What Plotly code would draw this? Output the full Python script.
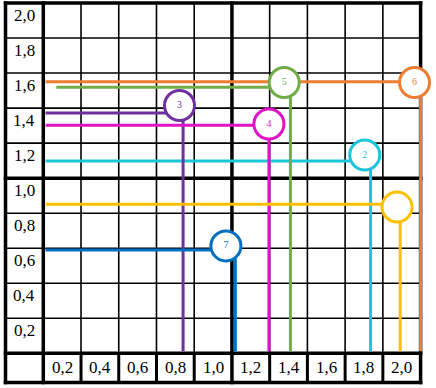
import plotly.graph_objects as go

# ---- data ----
x_tick_labels = ["0,2", "0,4", "0,6", "0,8", "1,0", "1,2", "1,4", "1,6", "1,8", "2,0"]
y_tick_labels = ["0,2", "0,4", "0,6", "0,8", "1,0", "1,2", "1,4", "1,6", "1,8", "2,0"]
tick_values = [0.2, 0.4, 0.6, 0.8, 1.0, 1.2, 1.4, 1.6, 1.8, 2.0]

series_labels = ["2", "3", "4", "5", "6", "", "7"]
series_x = [1.735, 0.741, 1.196, 1.310, 2.000, 1.892, 1.018]
series_y = [1.098, 1.372, 1.302, 1.519, 1.551, 0.851, 0.590]
line_start_x = [0.0, 0.0, 0.0, 0.057, 0.0, 0.0, 0.0]
bubble_x = [1.704, 0.722, 1.196, 1.277, 1.968, 1.875, 0.968]
bubble_y = [1.132, 1.415, 1.309, 1.546, 1.546, 0.835, 0.613]

# ---- styles ----
colors = ["#1CC6DA", "#7030A0", "#E014C6", "#70AD47", "#ED7D31", "#FFC000", "#0070C0"]
FONT = "'Times New Roman', 'Liberation Serif', 'DejaVu Serif', serif"
X_LEFT = -0.2003      # outer border of label column
Y_BOTTOM = -0.1667    # outer border of label row
EX, EY = 0.0093, 0.010

fig = go.Figure()

shapes = []
def line(x0, y0, x1, y1, w):
    shapes.append(dict(type="line", x0=x0, y0=y0, x1=x1, y1=y1, layer="below",
                       line=dict(color="black", width=w)))

for v in tick_values[:-1]:
    if abs(v - 1.0) < 1e-9:
        continue
    line(X_LEFT, v, 2.0, v, 1.6)          # horizontal thin
    line(v, 0, v, 2.0, 1.6)               # vertical thin in grid
    line(v, Y_BOTTOM, v, 0, 3)            # separators in label row
for xv in [X_LEFT, 0.0, 1.0, 2.0]:
    line(xv, Y_BOTTOM - EY, xv, 2.0 + EY, 3.5)
for yv in [Y_BOTTOM, 0.0, 1.0, 2.0]:
    line(X_LEFT - EX, yv, 2.0 + EX, yv, 3.5)

# colored leader lines
for lab, xs, xv, yv, c in zip(series_labels, line_start_x, series_x, series_y, colors):
    fig.add_trace(go.Scatter(x=[xs + 0.012, xv, xv], y=[yv, yv, 0.012], mode="lines",
                             line=dict(color=c, width=3), hoverinfo="skip",
                             showlegend=False, cliponaxis=False))

# circles with numbers
for lab, bx, by, c in zip(series_labels, bubble_x, bubble_y, colors):
    fig.add_trace(go.Scatter(x=[bx], y=[by], mode="markers+text", text=[lab],
                             textposition="middle center",
                             textfont=dict(family=FONT, size=10, color=c),
                             marker=dict(size=30, color="white", line=dict(color=c, width=3)),
                             hoverinfo="skip", showlegend=False, cliponaxis=False))

annotations = []
for i, lab in enumerate(x_tick_labels):
    annotations.append(dict(x=tick_values[i] - 0.1, y=Y_BOTTOM / 2, text=lab, showarrow=False,
                            xanchor="center", yanchor="middle",
                            font=dict(family=FONT, size=17, color="black")))
for i, lab in enumerate(y_tick_labels):
    annotations.append(dict(x=X_LEFT / 2, y=tick_values[i], text=lab, showarrow=False,
                            xanchor="center", yanchor="top", yshift=-1,
                            font=dict(family=FONT, size=17, color="black")))

fig.update_layout(
    width=436, height=388,
    margin=dict(l=0, r=0, t=0, b=0),
    paper_bgcolor="white", plot_bgcolor="white",
    xaxis=dict(range=[-0.2295, 2.0817], visible=False, fixedrange=True),
    yaxis=dict(range=[-0.1981, 2.0171], visible=False, fixedrange=True),
    shapes=shapes, annotations=annotations,
)

fig.write_html("out.html", config={"displayModeBar": False},
               post_script="document.body.style.margin='0';document.body.style.padding='0';")
